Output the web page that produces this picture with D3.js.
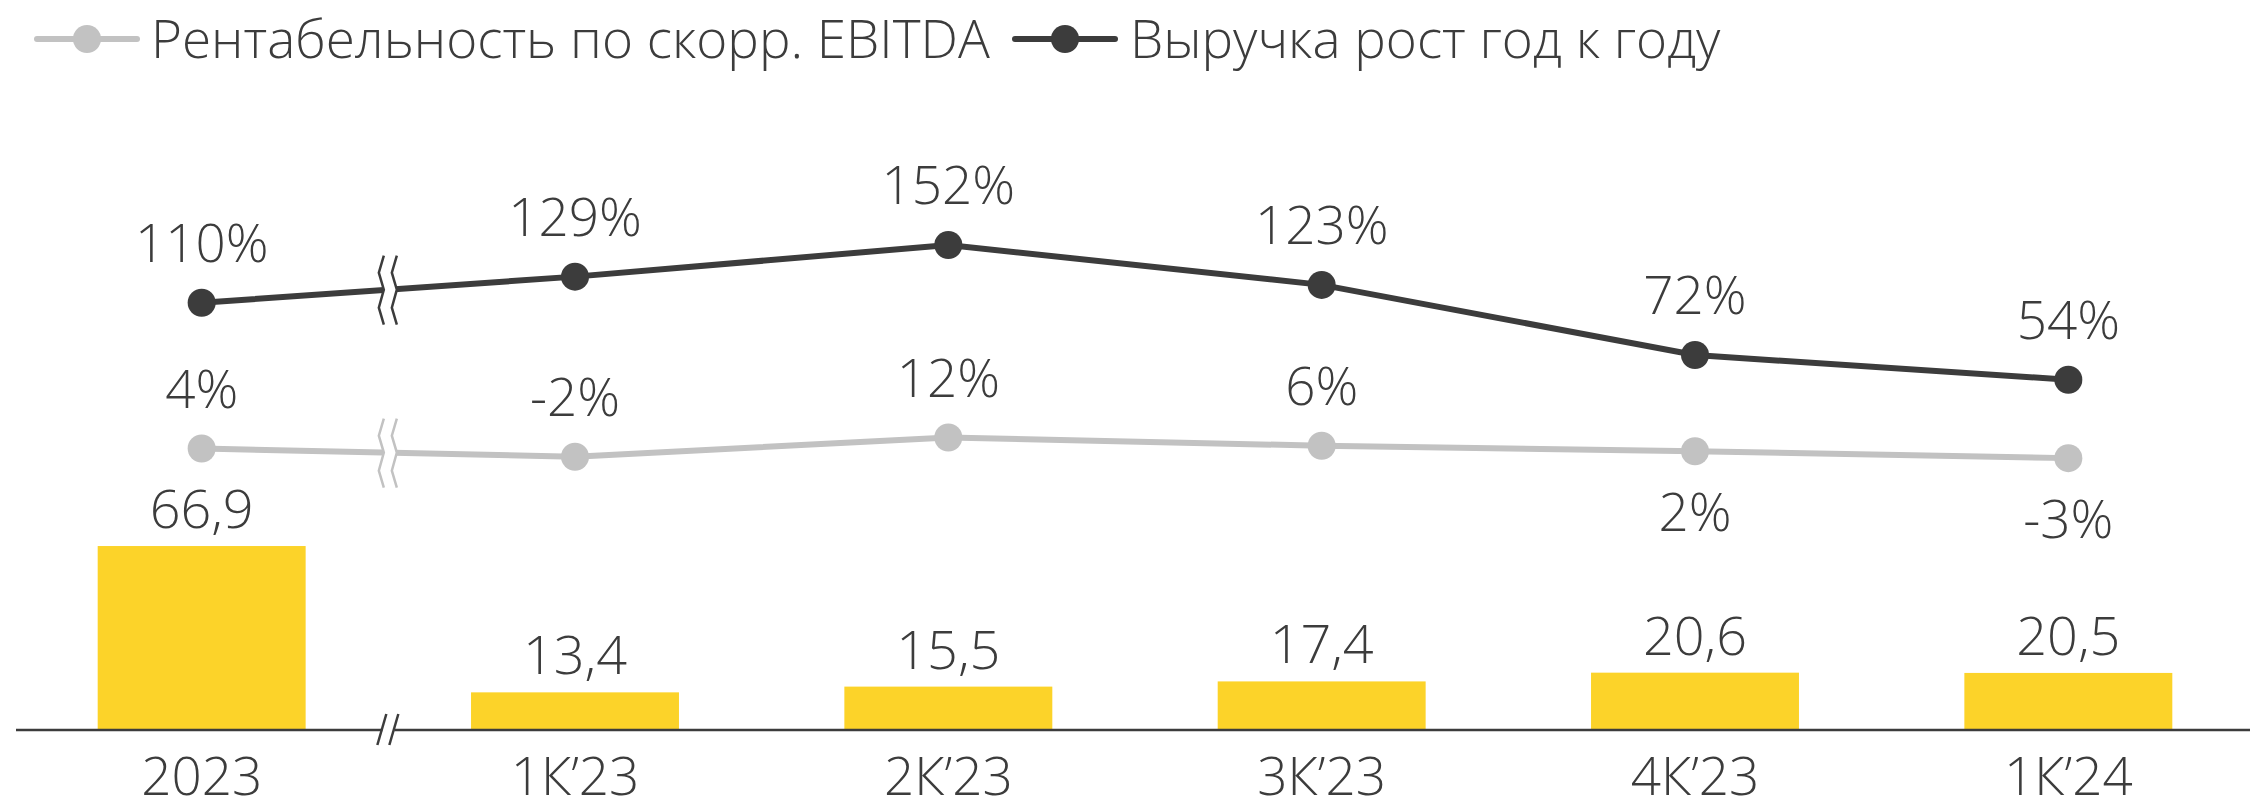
<!DOCTYPE html>
<html>
<head>
<meta charset="utf-8">
<script src="https://cdn.jsdelivr.net/npm/d3@7"></script>
<style>
  body { margin: 0; background: #fff; }
  svg text { font-family: "Open Sans", sans-serif; font-weight: 300; fill: #3c3c3c; }
</style>
</head>
<body>
<div id="chart"></div>
<script>
var categories = ["2023", "1К’23", "2К’23", "3К’23", "4К’23", "1К’24"];
var revenue = [66.9, 13.4, 15.5, 17.4, 20.6, 20.5];
var revenueLabels = ["66,9", "13,4", "15,5", "17,4", "20,6", "20,5"];
var growth = [110, 129, 152, 123, 72, 54];
var margin = [4, -2, 12, 6, 2, -3];
var marginBelow = [false, false, false, false, true, true];
var legendNames = ["Рентабельность по скорр. EBITDA", "Выручка рост год к году"];

var width = 2264, height = 804;
var darkColor = "#3c3c3c", lightColor = "#c2c2c2", barColor = "#fcd329";

var svg = d3.select("#chart")
    .append("svg")
    .attr("width", width)
    .attr("height", height);

var x = d3.scaleBand()
    .domain(categories)
    .range([15, 2255])
    .paddingInner(0.443)
    .paddingOuter(0.2215);

var baseY = 729;
var yBar = d3.scaleLinear().domain([0, 100]).range([baseY, baseY - 273.5]);
var yPct = d3.scaleLinear().domain([0, 100]).range([454, 316.5]);

function cx(d, i) { return x(categories[i]) + x.bandwidth() / 2; }

// bars
svg.selectAll(".bar")
    .data(revenue)
    .enter().append("rect")
    .attr("class", "bar")
    .attr("x", function(d, i) { return x(categories[i]); })
    .attr("y", function(d) { return yBar(d); })
    .attr("width", x.bandwidth())
    .attr("height", function(d) { return baseY - yBar(d); })
    .attr("fill", barColor);

svg.selectAll(".barlabel")
    .data(revenue)
    .enter().append("text")
    .attr("class", "barlabel")
    .attr("x", cx)
    .attr("y", function(d) { return yBar(d) - 18; })
    .attr("text-anchor", "middle")
    .style("font-size", "54px")
    .text(function(d, i) { return revenueLabels[i]; });

// x axis with break
var xBreak = (x(categories[0]) + x.bandwidth() + x(categories[1])) / 2;
svg.append("line")
    .attr("x1", 16).attr("x2", xBreak - 6)
    .attr("y1", baseY + 1).attr("y2", baseY + 1)
    .attr("stroke", darkColor).attr("stroke-width", 2.5);
svg.append("line")
    .attr("x1", xBreak + 6).attr("x2", 2250)
    .attr("y1", baseY + 1).attr("y2", baseY + 1)
    .attr("stroke", darkColor).attr("stroke-width", 2.5);
[-6, 6].forEach(function(o) {
    svg.append("line")
        .attr("x1", xBreak + o - 5).attr("y1", baseY + 16)
        .attr("x2", xBreak + o + 4).attr("y2", baseY - 15)
        .attr("stroke", darkColor).attr("stroke-width", 2.5);
});

svg.selectAll(".xlabel")
    .data(categories)
    .enter().append("text")
    .attr("class", "xlabel")
    .attr("x", cx)
    .attr("y", 795)
    .attr("text-anchor", "middle")
    .style("font-size", "53px")
    .text(function(d) { return d; });

// lines
var line = d3.line()
    .x(function(d, i) { return cx(d, i); })
    .y(function(d) { return yPct(d); });

function drawSeries(values, color, labelBelow) {
    svg.append("path")
        .datum(values)
        .attr("d", line)
        .attr("fill", "none")
        .attr("stroke", color)
        .attr("stroke-width", 6);

    // break on the first segment
    var y0 = yPct(values[0]), y1 = yPct(values[1]);
    var yc = y0 + (y1 - y0) * (xBreak - cx(null, 0)) / (cx(null, 1) - cx(null, 0));
    var zig = [[2.5, -34], [-2.5, -17], [2.5, 0], [-2.5, 18], [2.5, 35]];
    var left = zig.map(function(p) { return [xBreak - 7 + p[0], yc + p[1]]; });
    var right = zig.map(function(p) { return [xBreak + 6 + p[0], yc + p[1]]; });
    svg.append("polygon")
        .attr("points", left.concat(right.slice().reverse()).join(" "))
        .attr("fill", "#fff");
    [left, right].forEach(function(pts) {
        svg.append("polyline")
            .attr("points", pts.join(" "))
            .attr("fill", "none")
            .attr("stroke", color)
            .attr("stroke-width", 2.5);
    });

    svg.selectAll(null)
        .data(values)
        .enter().append("circle")
        .attr("cx", cx)
        .attr("cy", function(d) { return yPct(d); })
        .attr("r", 14)
        .attr("fill", color);

    svg.selectAll(null)
        .data(values)
        .enter().append("text")
        .attr("x", cx)
        .attr("y", function(d, i) { return labelBelow && labelBelow[i] ? yPct(d) + 80 : yPct(d) - 41; })
        .attr("text-anchor", "middle")
        .style("font-size", "53px")
        .text(function(d) { return d + "%"; });
}

drawSeries(margin, lightColor, marginBelow);
drawSeries(growth, darkColor, null);

// legend
var legendX = [37, 1015];
var legendColors = [lightColor, darkColor];
var legendY = 39;
legendNames.forEach(function(name, i) {
    var g = svg.append("g").attr("transform", "translate(" + legendX[i] + "," + legendY + ")");
    g.append("line")
        .attr("x1", 0).attr("x2", 100)
        .attr("stroke", legendColors[i]).attr("stroke-width", 6)
        .attr("stroke-linecap", "round");
    g.append("circle").attr("cx", 50).attr("r", 14).attr("fill", legendColors[i]);
    g.append("text")
        .attr("x", i == 0 ? 114 : 115)
        .attr("y", 19)
        .style("font-size", "53px")
        .text(name);
});
</script>
</body>
</html>
